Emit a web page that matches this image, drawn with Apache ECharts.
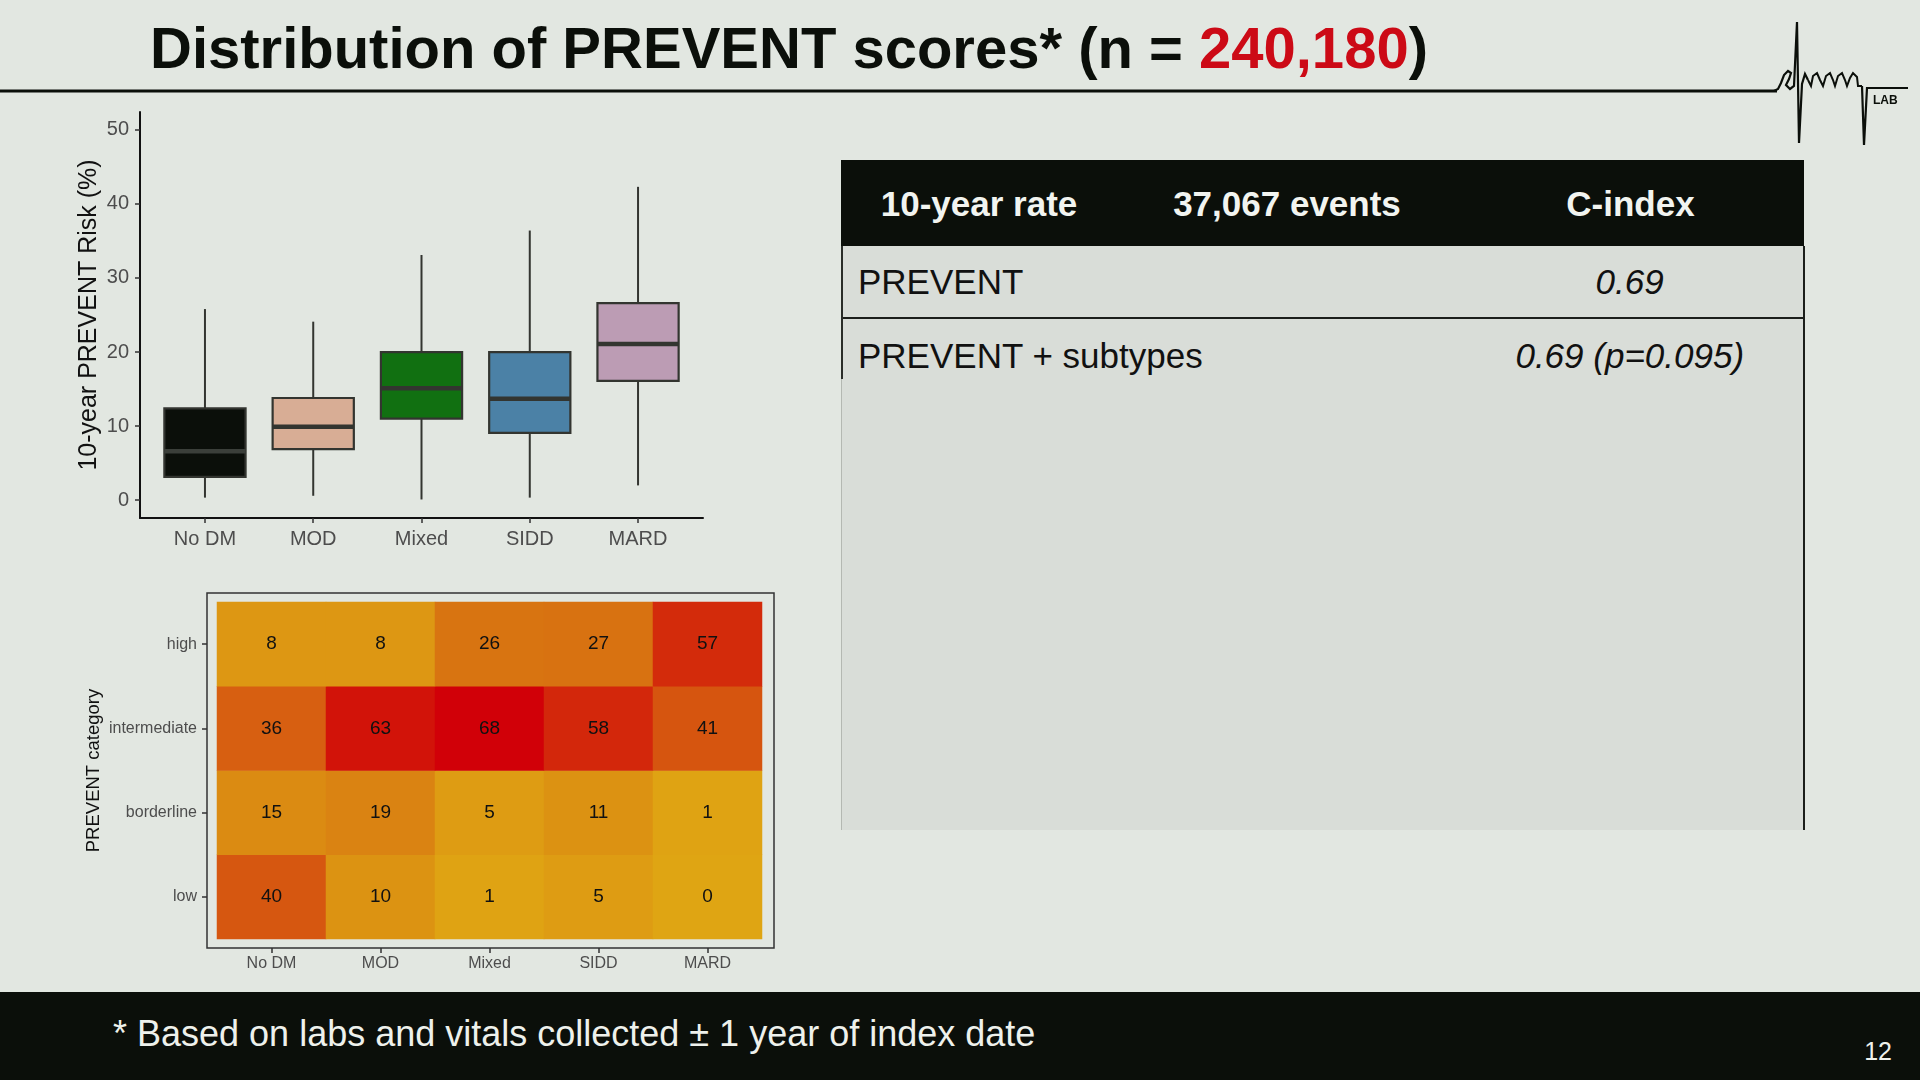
<!DOCTYPE html>
<html>
<head>
<meta charset="utf-8">
<title>Distribution of PREVENT scores</title>
<script src="https://cdn.jsdelivr.net/npm/echarts@6/dist/echarts.min.js"></script>
<style>
  html, body { margin: 0; padding: 0; }
  body {
    width: 1920px; height: 1080px; overflow: hidden; position: relative;
    background: #e2e7e1; font-family: "Liberation Sans", Arial, sans-serif;
  }
  #chart { position: absolute; left: 0; top: 0; width: 1920px; height: 1080px; }
  .title {
    position: absolute; left: 150px; top: 19px; font-size: 58px; line-height: 1;
    font-weight: bold; color: #0b0f0a; white-space: nowrap;
  }
  .title .n { color: #cc0a16; }
  .tblHead {
    position: absolute; left: 841px; top: 160px; width: 963px; height: 86px;
    background: #0b0f0a; color: #f2f4f0; font-size: 35px; font-weight: bold; display: flex;
  }
  .tblHead div { display: flex; align-items: center; justify-content: center; line-height: 1; }
  .tblBody {
    position: absolute; left: 841px; top: 246px; width: 961px; height: 584px;
    background: #d9ddd8; border-left: 1px solid #b4b8b2; border-right: 2px solid #1c1f1b;
  }
  .leftEdge { position: absolute; left: -1px; top: 0; width: 2px; height: 133px; background: #2a2d29; }
  .row { display: flex; height: 72px; font-size: 35px; color: #111; line-height: 1; }
  .row div { display: flex; align-items: center; }
  .row.first { border-bottom: 2px solid #1c1f1b; height: 71px; }
  .c1 { width: 259px; padding-left: 16px; white-space: nowrap; }
  .c2 { width: 340px; }
  .c3 { width: 347px; justify-content: center; font-style: italic; }
  .foot {
    position: absolute; left: 0; top: 992px; width: 1920px; height: 88px; background: #0b0f0a;
  }
  .foot .txt {
    position: absolute; left: 113px; top: 24px; font-size: 36px; line-height: 1;
    color: #eef1ec; white-space: nowrap;
  }
  .foot .pg {
    position: absolute; right: 28px; top: 47px; font-size: 25px; line-height: 1; color: #eef1ec;
  }
</style>
</head>
<body>
<div id="chart"></div>
<div class="title">Distribution of PREVENT scores* (n = <span class="n">240,180</span>)</div>
<div class="tblHead">
  <div style="width:276px">10-year rate</div>
  <div style="width:340px">37,067 events</div>
  <div style="width:347px">C-index</div>
</div>
<div class="tblBody">
  <div class="leftEdge"></div>
  <div class="row first"><div class="c1">PREVENT</div><div class="c2"></div><div class="c3">0.69</div></div>
  <div class="row"><div class="c1">PREVENT + subtypes</div><div class="c2"></div><div class="c3">0.69 (<i>p</i>=0.095)</div></div>
</div>
<div class="foot">
  <div class="txt">* Based on labs and vitals collected ± 1 year of index date</div>
  <div class="pg">12</div>
</div>
<script>
// 箱线图：10年风险分布
var boxCats = ['No DM', 'MOD', 'Mixed', 'SIDD', 'MARD'];
var boxMin = [0.35, 0.6, 0.1, 0.35, 2.0];
var boxQ1 = [3.15, 6.9, 11.0, 9.1, 16.1];
var boxMedian = [6.6, 9.9, 15.1, 13.7, 21.1];
var boxQ3 = [12.4, 13.8, 20.0, 20.0, 26.6];
var boxMax = [25.8, 24.1, 33.1, 36.4, 42.3];
var boxColors = ['#0b0f0a', '#d8ad95', '#117011', '#4b81a6', '#bc9cb4'];
var riskTicks = [0, 10, 20, 30, 40, 50];

// 热力图：各亚型 PREVENT 分类
var heatCats = ['No DM', 'MOD', 'Mixed', 'SIDD', 'MARD'];
var heatRows = ['low', 'borderline', 'intermediate', 'high'];
var heatLow = [40, 10, 1, 5, 0];
var heatBorderline = [15, 19, 5, 11, 1];
var heatIntermediate = [36, 63, 68, 58, 41];
var heatHigh = [8, 8, 26, 27, 57];

var boxData = boxCats.map(function (c, i) {
    return [i + 1, boxMin[i], boxQ1[i], boxMedian[i], boxQ3[i], boxMax[i]];
});

var heatData = [];
[heatLow, heatBorderline, heatIntermediate, heatHigh].forEach(function (row, r) {
    row.forEach(function (v, c) {
        heatData.push([c, r, v]);
    });
});

function renderBox(params, api) {
    var x = api.value(0);
    var lo = api.coord([x, api.value(1)]);
    var q1 = api.coord([x, api.value(2)]);
    var md = api.coord([x, api.value(3)]);
    var q3 = api.coord([x, api.value(4)]);
    var hi = api.coord([x, api.value(5)]);
    var w = api.size([1, 0])[0] * 0.75;
    var cx = lo[0];
    var edge = '#333530';
    return {
        type: 'group',
        children: [
            {type: 'line', shape: {x1: cx, y1: hi[1], x2: cx, y2: q3[1]}, style: {stroke: edge, lineWidth: 2}},
            {type: 'line', shape: {x1: cx, y1: q1[1], x2: cx, y2: lo[1]}, style: {stroke: edge, lineWidth: 2}},
            {type: 'rect', shape: {x: cx - w / 2, y: q3[1], width: w, height: q1[1] - q3[1]},
                style: {fill: boxColors[params.dataIndex], stroke: edge, lineWidth: 2.2}},
            {type: 'line', shape: {x1: cx - w / 2, y1: md[1], x2: cx + w / 2, y2: md[1]},
                style: {stroke: params.dataIndex === 0 ? '#3b3f3a' : edge, lineWidth: 4.5}}
        ]
    };
}

var tickStyle = {color: '#333', width: 1.5};
var labelGray = '#4d4d4d';

var myChart = echarts.init(document.getElementById('chart'));
var option = {
    animation: false,
    textStyle: {fontFamily: 'Liberation Sans, Arial, sans-serif'},
    grid: [
        {left: 140, top: 112, width: 563, height: 406},
        {left: 217, top: 602, width: 545, height: 337},
        {left: 207, top: 593, width: 567, height: 355, show: true, borderColor: '#333', borderWidth: 1.5,
            backgroundColor: 'transparent', z: 5}
    ],
    xAxis: [
        {
            type: 'value', gridIndex: 0, min: 0.4, max: 5.6,
            axisLine: {show: true, onZero: false, lineStyle: {color: '#111', width: 2}},
            axisTick: {show: true, length: 5, customValues: [1, 2, 3, 4, 5], lineStyle: tickStyle},
            axisLabel: {
                customValues: [1, 2, 3, 4, 5], margin: 11, fontSize: 20, color: labelGray,
                formatter: function (v) { return boxCats[Math.round(v) - 1]; }
            },
            splitLine: {show: false}
        },
        {
            type: 'category', gridIndex: 1, data: heatCats, offset: 9,
            axisLine: {show: false, onZero: false},
            axisTick: {show: true, alignWithLabel: true, length: 5, lineStyle: tickStyle},
            axisLabel: {margin: 8, fontSize: 16, color: labelGray},
            splitLine: {show: false}
        },
        {type: 'value', gridIndex: 2, show: false, min: 0, max: 1}
    ],
    yAxis: [
        {
            type: 'value', gridIndex: 0, min: -2.4, max: 52.4,
            name: '10-year PREVENT Risk (%)', nameLocation: 'middle', nameGap: 38,
            nameTextStyle: {fontSize: 25, color: '#111'},
            axisLine: {show: true, onZero: false, lineStyle: {color: '#111', width: 2}},
            axisTick: {show: true, length: 5, customValues: riskTicks, lineStyle: tickStyle},
            axisLabel: {customValues: riskTicks, margin: 11, fontSize: 20, color: labelGray},
            splitLine: {show: false}
        },
        {
            type: 'category', gridIndex: 1, data: heatRows, offset: 10,
            name: 'PREVENT category', nameLocation: 'middle', nameGap: 104,
            nameTextStyle: {fontSize: 18.5, color: '#111'},
            axisLine: {show: false, onZero: false},
            axisTick: {show: true, alignWithLabel: true, length: 5, lineStyle: tickStyle},
            axisLabel: {margin: 10, fontSize: 16, color: labelGray},
            splitLine: {show: false}
        },
        {type: 'value', gridIndex: 2, show: false, min: 0, max: 1}
    ],
    visualMap: {
        type: 'continuous', show: false, seriesIndex: 1, min: 0, max: 68,
        inRange: {color: ['#dfa513', '#da8712', '#d76311', '#d4420d', '#d10008']}
    },
    series: [
        {
            type: 'custom', name: 'PREVENT risk', xAxisIndex: 0, yAxisIndex: 0,
            data: boxData, encode: {x: 0, y: [1, 2, 3, 4, 5]},
            renderItem: renderBox
        },
        {
            type: 'heatmap', name: 'PREVENT category', xAxisIndex: 1, yAxisIndex: 1,
            data: heatData,
            label: {show: true, fontSize: 19, color: '#111'},
            itemStyle: {borderWidth: 0},
            emphasis: {disabled: true}
        }
    ],
    graphic: [
        // 标题下横线 + logo
        {type: 'rect', shape: {x: 0, y: 89.5, width: 1777, height: 3}, style: {fill: '#0b0f0a'}},
        {
            type: 'polyline',
            shape: {points: [[1774, 91], [1778, 89], [1781, 83], [1784, 75], [1788, 71], [1791, 73], [1789, 79],
                [1786, 85], [1790, 89], [1794, 86], [1797, 22], [1799, 143], [1802, 84], [1805, 74], [1808, 80]]},
            style: {stroke: '#0b0f0a', lineWidth: 2.2, fill: null}
        },
        {
            type: 'polyline',
            shape: {points: [[1808, 80], [1811, 86], [1813, 76], [1817, 73], [1820, 80], [1823, 86], [1826, 76],
                [1830, 73], [1833, 80], [1835, 86], [1838, 76], [1842, 73], [1845, 80], [1847, 86], [1850, 78],
                [1853, 73], [1857, 77], [1858, 86], [1862, 86]]},
            style: {stroke: '#0b0f0a', lineWidth: 2, fill: null}
        },
        {
            type: 'polyline',
            shape: {points: [[1862, 86], [1864, 145], [1867, 88], [1908, 88]]},
            style: {stroke: '#0b0f0a', lineWidth: 2.2, fill: null}
        },
        {
            type: 'text', x: 1873, y: 95,
            style: {text: 'LAB', fontSize: 12, fontWeight: 'bold', fill: '#0b0f0a', fontFamily: 'Liberation Sans'}
        }
    ]
};
myChart.setOption(option);
</script>
</body>
</html>
